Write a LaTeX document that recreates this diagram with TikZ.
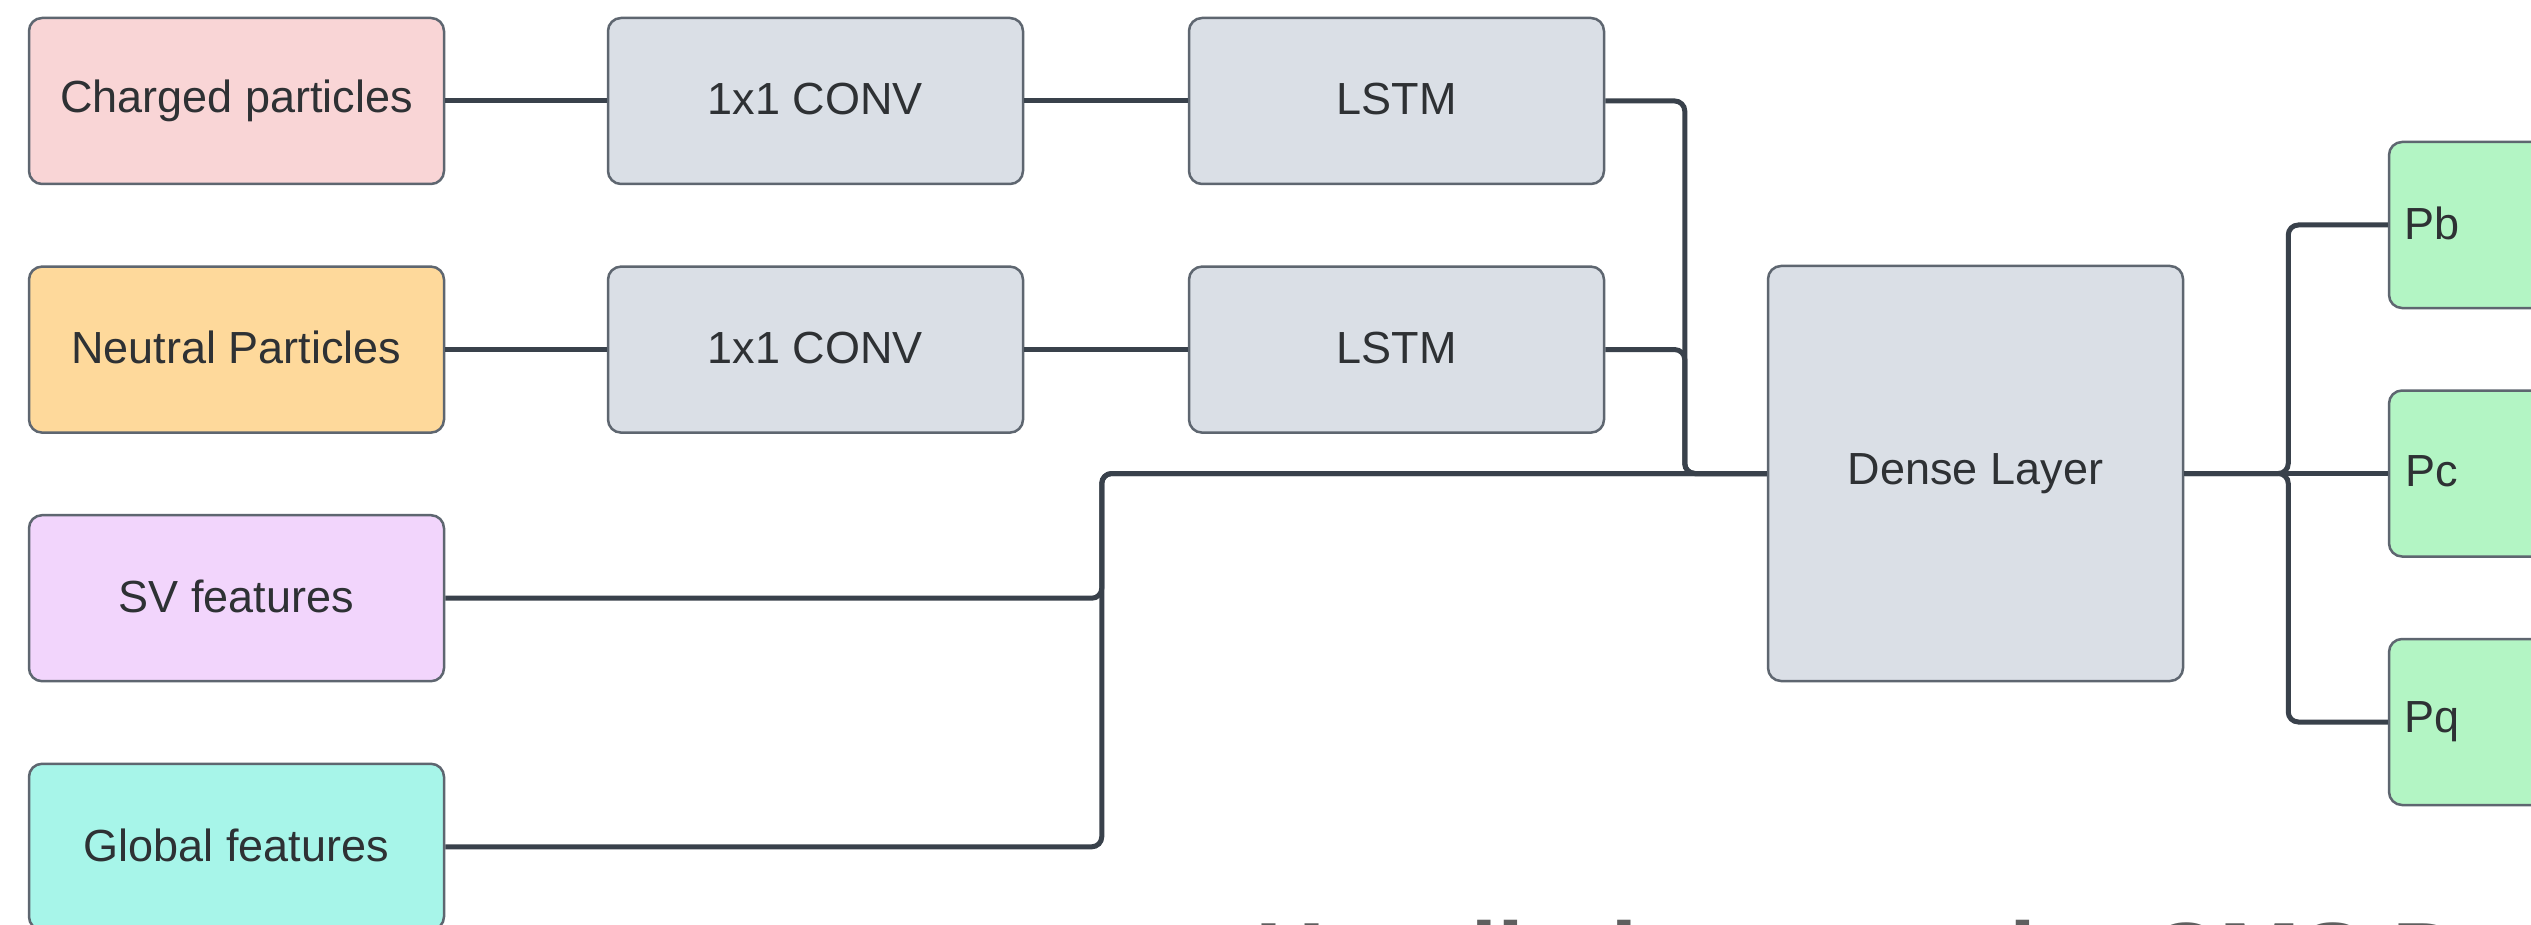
\documentclass[tikz,border=0pt]{standalone}
\usepackage{fontspec}
\setmainfont{Liberation Sans}
\usetikzlibrary{calc}

\definecolor{edgegray}{HTML}{5E6670}
\definecolor{wire}{HTML}{39414B}
\definecolor{inktext}{HTML}{2E3134}
\definecolor{fillcharged}{HTML}{F9D5D6}
\definecolor{fillneutral}{HTML}{FED99B}
\definecolor{fillsv}{HTML}{F2D5FC}
\definecolor{fillglobal}{HTML}{A7F5E9}
\definecolor{filllayer}{HTML}{DADFE6}
\definecolor{fillout}{HTML}{B3F5C4}
\definecolor{titlegray}{HTML}{5F5F5F}

\tikzset{
  block/.style={draw=edgegray, line width=2.5pt, rounded corners=13pt,
    minimum width=415pt, minimum height=166pt, inner sep=0pt,
    text=inktext, font=\fontsize{45}{54}\selectfont},
  conn/.style={draw=wire, line width=5pt, rounded corners=10pt},
}

\begin{document}
\begin{tikzpicture}[x=1pt, y=-1pt]
  \useasboundingbox (0,0) rectangle (2531,925);
  \clip (0,0) rectangle (2531,925);
  \fill[white] (0,0) rectangle (2531,925);

  % input feature groups
  \node[block, fill=fillcharged] (charged) at (236.5,101)   {\raisebox{4pt}{Charged particles}};
  \node[block, fill=fillneutral] (neutral) at (236.5,349.6) {\raisebox{4pt}{Neutral Particles}};
  \node[block, fill=fillsv]      (sv)      at (236.5,598.2) {\raisebox{4pt}{SV features}};
  \node[block, fill=fillglobal]  (global)  at (236.5,846.8) {\raisebox{4pt}{Global features}};

  % per-particle processing
  \node[block, fill=filllayer] (conv1) at (815.5,101)   {\raisebox{4pt}{1x1 CONV}};
  \node[block, fill=filllayer] (conv2) at (815.5,349.6) {\raisebox{4pt}{1x1 CONV}};
  \node[block, fill=filllayer] (lstm1) at (1396.5,101)   {\raisebox{4pt}{LSTM}};
  \node[block, fill=filllayer] (lstm2) at (1396.5,349.6) {\raisebox{4pt}{LSTM}};

  % dense head
  \node[block, fill=filllayer, minimum height=415pt] (dense) at (1975.5,473.5) {\raisebox{-3pt}{Dense Layer}};

  % output probabilities
  \node[block, fill=fillout] (pb) at (2596.5,225)   {\hspace*{-330pt}\raisebox{4pt}{Pb}};
  \node[block, fill=fillout] (pc) at (2596.5,473.5) {\hspace*{-330pt}\raisebox{4pt}{Pc}};
  \node[block, fill=fillout] (pq) at (2596.5,722)   {\hspace*{-330pt}\raisebox{4pt}{Pq}};

  % connectors
  \draw[conn] (charged.east) -- (conv1.west);
  \draw[conn] (neutral.east) -- (conv2.west);
  \draw[conn] (conv1.east) -- (lstm1.west);
  \draw[conn] (conv2.east) -- (lstm2.west);

  \draw[conn] (lstm1.east) -| ($(dense.west)+(-82,0)$) -- (dense.west);
  \draw[conn] (lstm2.east) -| ($(dense.west)+(-82,0)$) -- (dense.west);
  \draw[conn] (sv.east) -| ($(dense.west)+(-665,0)$) -- (dense.west);
  \draw[conn] (global.east) -| ($(dense.west)+(-665,0)$) -- (dense.west);

  \draw[conn] (dense.east) -- ++(104,0) |- (pb.west);
  \draw[conn] (dense.east) -- (pc.west);
  \draw[conn] (dense.east) -- ++(104,0) |- (pq.west);

  % slide caption, running off the lower edge
  \node[anchor=base west, inner sep=0pt, text=titlegray,
        font=\fontsize{97}{110}\selectfont\bfseries] (caption) at (1255,990)
        {Handled as per the CMS DeepJet};
\end{tikzpicture}
\end{document}
